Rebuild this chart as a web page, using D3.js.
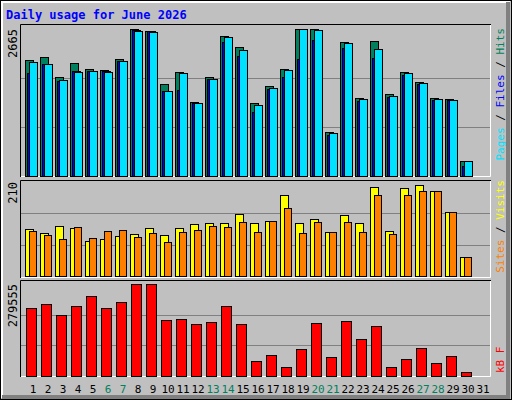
<!DOCTYPE html>
<html><head><meta charset="utf-8">
<script src="https://cdn.jsdelivr.net/npm/d3@7"></script>
<style>body{margin:0;background:#fff}</style></head>
<body><svg id="c" width="512" height="400"></svg>
<script>
const days = d3.range(1,32);
const weekend = [6,7,13,14,20,21,27,28];
const hits  = [2103,2157,1795,2049,1940,1922,2121,2665,2629,1668,1885,1342,1795,2538,2339,1323,1632,1940,2665,2665,798,2429,1414,2447,1487,1885,1704,1414,1396,272];
const files = [1867,2031,1722,1904,1904,1904,2085,2647,2629,1541,1559,1323,1759,2429,2176,1160,1577,1795,2121,2466,743,2321,1360,2139,1432,1831,1668,1378,1378,181];
const pages = [2067,2031,1740,1885,1904,1885,2085,2629,2611,1541,1867,1323,1759,2520,2284,1287,1595,1922,2665,2647,780,2411,1396,2302,1450,1867,1686,1396,1378,272];
const visits= [104,96,111,107,78,82,89,93,107,91,107,116,118,118,138,118,122,182,118,127,98,136,118,198,100,196,204,189,142,42];
const sites = [100,91,82,109,84,100,102,87,96,76,98,102,111,109,120,98,122,151,96,120,98,120,98,180,93,182,191,189,144,42];
const kbytes= [205400,217600,184100,211500,242000,205400,223700,279555,279555,168800,171800,156600,162700,211500,156600,46800,65100,28500,83400,159700,59000,165700,113900,150500,28500,52900,86400,40700,62000,13200];
const maxLabels = ["2665","210","279555"];
const title = "Daily usage for June 2026";

const svg = d3.select("#c");
const F = "'DejaVu Sans Mono', monospace";
svg.append("rect").attr("width",512).attr("height",400).attr("fill","#C0C0C0");
svg.append("path").attr("d","M1.5,398V1.5H510").attr("stroke","#fff").attr("stroke-width",3).attr("fill","none");
svg.append("path").attr("d","M508,2V508M2,397H508").attr("stroke","#808080").attr("stroke-width",4).attr("fill","none");
svg.append("rect").attr("x",0.5).attr("y",0.5).attr("width",511).attr("height",399).attr("fill","none").attr("stroke","#000");
svg.append("text").attr("x",6).attr("y",19).text(title).attr("font-family",F).attr("font-weight","bold").attr("font-size",12).attr("fill","#0000FF");

const x = d3.scaleLinear().domain([1,31]).range([33,483]);
const panels = [
  {top:29,bot:176,max:2665},
  {top:182,bot:276,max:210},
  {top:284,bot:376,max:279555}
];
const frames=[[24,177],[180,278],[280,377]];
frames.forEach(([t,b])=>{
  svg.append("path").attr("d",`M20.5,${b}V${t+.5}H491`).attr("stroke","#000").attr("fill","none");
  svg.append("path").attr("d",`M21,${b-.5}H490.5V${t+1}`).attr("stroke","#fff").attr("fill","none");
});
panels.forEach((p,i)=>{
  p.y = d3.scaleLinear().domain([0,p.max]).range([p.bot,p.top]);
  [1/3,2/3].forEach(f=>svg.append("line").attr("x1",21).attr("x2",490).attr("y1",Math.round(p.y(p.max*f))+.5).attr("y2",Math.round(p.y(p.max*f))+.5).attr("stroke","#808080"));
  svg.append("text").attr("transform",`translate(17,${p.top}) rotate(-90)`).attr("text-anchor","end").text(maxLabels[i]).attr("font-family",F).attr("font-size",12).attr("fill","#000");
});
function bars(data,p,off,w,col){
  svg.append("g").selectAll("rect").data(data).join("rect")
   .attr("x",(d,i)=>Math.round(x(i+1))+off+.5).attr("width",w)
   .attr("y",d=>Math.round(p.y(d))+.5).attr("height",d=>p.bot-Math.round(p.y(d)))
   .attr("fill",col).attr("stroke","#000");
}
bars(hits,panels[0],-8,8,"#00805C");
bars(files,panels[0],-6,8,"#0000FF");
bars(pages,panels[0],-4,8,"#00E0FF");
bars(visits,panels[1],-8,8,"#FFFF00");
bars(sites,panels[1],-4,7,"#FF8000");
bars(kbytes,panels[2],-7,10,"#FF0000");

svg.append("g").selectAll("text").data(days).join("text")
  .attr("x",d=>x(d)).attr("y",393).attr("text-anchor","middle").text(d=>d)
  .attr("font-family",F).attr("font-size",11).attr("fill",d=>weekend.includes(d)?"#00805C":"#000");

function side(parts,y,anchor){
  const t=svg.append("text").attr("transform",`translate(504,${y}) rotate(-90)`).attr("text-anchor",anchor).attr("font-family",F).attr("font-size",11);
  parts.forEach(([s,c])=>t.append("tspan").text(s).attr("fill",c));
}
side([["Pages","#00E0FF"],[" / ","#000"],["Files","#0000FF"],[" / ","#000"],["Hits","#00805C"]],28,"end");
side([["Sites","#FF8000"],[" / ","#000"],["Visits","#FFFF00"]],180,"end");
side([["kB F","#FF0000"]],373,"start");
</script></body></html>
